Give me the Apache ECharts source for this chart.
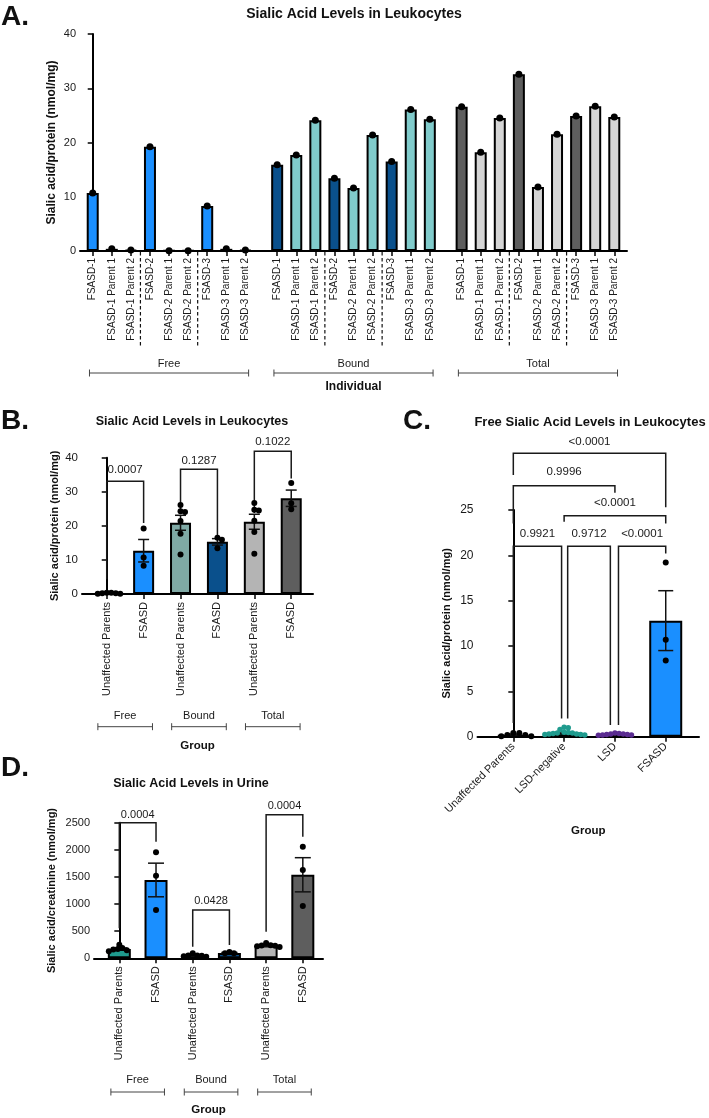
<!DOCTYPE html>
<html><head><meta charset="utf-8">
<script src="https://cdn.jsdelivr.net/npm/echarts@6/dist/echarts.min.js"></script>
<style>html,body{margin:0;padding:0;background:#fff}#c{width:709px;height:1118px}</style>
</head><body><div id="c"></div>
<script>
// ================= DATA =================
// Panel A – individual values (nmol/mg)
const aGroupNames = ['Free', 'Bound', 'Total'];
const aBarLabels = ['FSASD-1', 'FSASD-1 Parent 1', 'FSASD-1 Parent 2',
  'FSASD-2', 'FSASD-2 Parent 1', 'FSASD-2 Parent 2',
  'FSASD-3', 'FSASD-3 Parent 1', 'FSASD-3 Parent 2'];
const aFree  = [10.7, 0.4, 0.2, 19.2, 0.05, 0.05, 8.3, 0.4, 0.2];
const aBound = [15.9, 17.7, 24.1, 13.4, 11.6, 21.4, 16.5, 26.1, 24.3];
const aTotal = [26.6, 18.2, 24.5, 32.6, 11.8, 21.5, 24.9, 26.7, 24.7];

// Panel B – leukocytes by group
const bCategories = ['Unaffected Parents', 'FSASD', 'Unaffected Parents', 'FSASD', 'Unaffected Parents', 'FSASD'];
const bGroupNames = ['Free', 'Bound', 'Total'];
const bMeans = [0.22, 12.7, 20.9, 15.3, 21.2, 28.1];
const bSems  = [0.07, 3.3, 2.2, 0.95, 2.2, 2.4];
const bPoints = [
  [0.4, 0.2, 0.05, 0.05, 0.4, 0.2],
  [19.2, 10.7, 8.3],
  [17.7, 24.1, 11.6, 21.4, 26.1, 24.3],
  [15.9, 13.4, 16.5],
  [18.2, 24.5, 11.8, 21.5, 26.7, 24.7],
  [26.6, 32.6, 24.9]
];
const bPValues = ['0.0007', '0.1287', '0.1022'];

// Panel C – free sialic acid in leukocytes
const cCategories = ['Unaffected Parents', 'LSD-negative', 'LSD', 'FSASD'];
const cMeans = [0.22, 0.46, 0.26, 12.8];
const cSems  = [0.07, 0.08, 0.03, 3.3];
const cPoints = [
  [0.4, 0.2, 0.05, 0.05, 0.4, 0.2],
  [1.05, 1.0, 0.8, 0.5, 0.45, 0.4, 0.4, 0.35, 0.3, 0.3, 0.25, 0.25, 0.2],
  [0.4, 0.35, 0.3, 0.3, 0.25, 0.25, 0.2, 0.2, 0.15],
  [19.2, 10.7, 8.4]
];
const cPValues = ['<0.0001', '0.9996', '<0.0001', '0.9921', '0.9712', '<0.0001'];

// Panel D – urine (nmol/mg creatinine)
const dCategories = ['Unaffected Parents', 'FSASD', 'Unaffected Parents', 'FSASD', 'Unaffected Parents', 'FSASD'];
const dGroupNames = ['Free', 'Bound', 'Total'];
const dMeans = [172, 1444, 52, 100, 236, 1540];
const dSems  = [18, 310, 10, 8, 11, 315];
const dPoints = [
  [250, 190, 160, 130, 150, 170],
  [1954, 1523, 890],
  [95, 40, 50, 30, 45, 52],
  [118, 92, 95],
  [282, 240, 220, 230, 210, 235],
  [2058, 1629, 965]
];
const dPValues = ['0.0004', '0.0428', '0.0004'];

// ================= STYLE / LAYOUT =================
const FONT = '"Liberation Sans", Arial, Helvetica, sans-serif';
const C_BLUE = '#1A8FFF', C_DBLUE = '#0A508C', C_TEALL = '#80CBCB', C_LGRAY = '#D5D5D5',
      C_DGRAY = '#5E5E5E', C_BTEAL = '#7FA9A5', C_BGRAY = '#B4B4B4', C_TEAL = '#1F9B8E',
      C_PURPLE = '#5B2C91', C_TXT = '#1a1a1a';

const aFsColors = [C_BLUE, C_DBLUE, C_DGRAY];
const aParentColors = [C_BLUE, C_TEALL, C_LGRAY];
const bColors = [C_TEAL, C_BLUE, C_BTEAL, C_DBLUE, C_BGRAY, C_DGRAY];
const cColors = ['#111111', C_TEAL, C_PURPLE, C_BLUE];
const cDotColors = ['#000000', C_TEAL, C_PURPLE, '#000000'];
const dColors = [C_TEAL, C_BLUE, '#6FA7A2', C_DBLUE, C_BGRAY, C_DGRAY];

const GRIDS = [
  {left: 80, top: 34, width: 547, height: 217},      // A
  {left: 82, top: 457.7, width: 231, height: 136.3},  // B
  {left: 477.5, top: 510, width: 221.5, height: 226.7}, // C
  {left: 94, top: 822.7, width: 229, height: 135.6}   // D
];
const X_RANGE = [[-2/3, 28], [-0.67, 5.59], [-0.705, 3.655], [-0.69, 5.55]];
const Y_RANGE = [[0, 40, 10], [0, 40, 10], [0, 25, 5], [0, 2500, 500]];

// x positions of panel A bars (value axis), group gap of 5/3 slot
const aPos = [];
for (let g = 0; g < 3; g++) for (let i = 0; i < 9; i++) aPos.push(g * (9 + 2/3) + i);
const aLabelsAll = [].concat(aBarLabels, aBarLabels, aBarLabels);
const aValsAll = [].concat(aFree, aBound, aTotal);

// significance brackets: [x1, x2, yTop, yLeftEnd, yRightEnd, yText]
const bBrackets = [[0, 1, 33.1, 4.3, 20.8, 36.3], [2, 3, 36.6, 23.6, 17.2, 39.2], [4, 5, 41.9, 23.8, 33.9, 44.8]];
const cBrackets = [[0, 3, 31.25, 28.85, 25.3, 32.5], [0, 2, 27.67, 23.5, 26.9, 29.2], [1, 3, 24.37, 23.7, 23.5, 25.8],
  [0, 0.95, 21.0, 1.5, 2.0, 22.4], [1.07, 1.91, 21.0, 2.0, 1.3, 22.4], [2.07, 3, 21.0, 1.3, 20.2, 22.4]];
const dBrackets = [[0, 1, 2500, 553, 2150, 2650], [2, 3, 890, 215, 245, 1065], [4, 5, 2645, 490, 2242, 2810]];

// ================= HELPERS =================
function swarm(vals, pxPerY, pxPerX, d, minDist) {
  const order = vals.map((v, i) => i).sort((a, b) => vals[b] - vals[a]);
  const placed = []; const off = new Array(vals.length).fill(0);
  order.forEach(i => {
    const y = vals[i] * pxPerY;
    const cands = [0];
    for (let k = 1; k < 40; k++) { cands.push(k * d * 0.25); cands.push(-k * d * 0.25); }
    for (const c of cands) {
      if (placed.every(p => Math.hypot(p[0] - c, p[1] - y) >= d * minDist)) { placed.push([c, y]); off[i] = c / pxPerX; break; }
    }
  });
  return off;
}

function xAxisFor(idx, positions, labels, opts) {
  return Object.assign({
    type: 'value', gridIndex: idx, min: X_RANGE[idx][0], max: X_RANGE[idx][1],
    splitLine: {show: false},
    axisLine: {show: true, onZero: false, lineStyle: {color: '#000', width: 2}},
    axisTick: {show: true, length: 5, lineStyle: {color: '#000', width: 1.5}, customValues: positions},
    axisLabel: {
      customValues: positions, rotate: 90, margin: 8, fontSize: 11, color: C_TXT, fontFamily: FONT,
      formatter: v => { const k = positions.findIndex(p => Math.abs(p - v) < 1e-6); return k >= 0 ? labels[k] : ''; }
    }
  }, opts || {});
}
function yAxisFor(idx, name, nameGap, fs, nameFs) {
  return {
    type: 'value', gridIndex: idx, min: Y_RANGE[idx][0], max: Y_RANGE[idx][1], interval: Y_RANGE[idx][2],
    splitLine: {show: false},
    axisLine: {show: true, lineStyle: {color: '#000', width: 2}},
    axisTick: {show: true, length: 5, lineStyle: {color: '#000', width: 1.5}},
    axisLabel: {fontSize: fs, color: C_TXT, fontFamily: FONT, margin: 4, formatter: v => String(v)},
    name: name, nameLocation: 'middle', nameGap: nameGap, nameMoveOverlap: false,
    nameTextStyle: {fontSize: nameFs, fontWeight: 'bold', color: '#111', fontFamily: FONT}
  };
}
function barSeries(idx, xs, vals, colors, width) {
  return {
    type: 'bar', xAxisIndex: idx, yAxisIndex: idx, barWidth: width, z: 2,
    data: vals.map((v, i) => ({value: [xs[i], v], itemStyle: {color: colors[i], borderColor: '#000', borderWidth: 2}}))
  };
}
function dotSeries(idx, data, size, color) {
  return {type: 'scatter', xAxisIndex: idx, yAxisIndex: idx, symbolSize: size, z: 5,
    itemStyle: {color: color || '#000', opacity: 1}, data: data};
}
function errSeries(idx, means, sems, capHalf) {
  return {
    type: 'custom', xAxisIndex: idx, yAxisIndex: idx, clip: false, z: 4,
    data: means.map((m, i) => [i, m, sems[i]]),
    renderItem: (params, api) => {
      const x = api.value(0), m = api.value(1), s = api.value(2);
      const t = api.coord([x, m + s]), b = api.coord([x, m - s]);
      const st = {stroke: '#111', lineWidth: 1.5};
      return {type: 'group', children: [
        {type: 'line', shape: {x1: t[0], y1: t[1], x2: b[0], y2: b[1]}, style: st},
        {type: 'line', shape: {x1: t[0] - capHalf, y1: t[1], x2: t[0] + capHalf, y2: t[1]}, style: st},
        {type: 'line', shape: {x1: b[0] - capHalf, y1: b[1], x2: b[0] + capHalf, y2: b[1]}, style: st}
      ]};
    }
  };
}
function sigSeries(idx, brackets, labels, fs) {
  return {
    type: 'custom', xAxisIndex: idx, yAxisIndex: idx, clip: false, z: 3,
    data: brackets.map(b => b.slice()),
    renderItem: (params, api) => {
      const x1 = api.value(0), x2 = api.value(1), top = api.value(2), l = api.value(3), r = api.value(4), ty = api.value(5);
      const pL = api.coord([x1, top]), pR = api.coord([x2, top]);
      const pLb = api.coord([x1, l]), pRb = api.coord([x2, r]), pT = api.coord([(x1 + x2) / 2, ty]);
      const st = {stroke: '#1a1a1a', lineWidth: 1.5, fill: null};
      return {type: 'group', children: [
        {type: 'polyline', shape: {points: [[pLb[0], pLb[1]], [pL[0], pL[1]], [pR[0], pR[1]], [pRb[0], pRb[1]]]}, style: st},
        {type: 'text', style: {text: labels[params.dataIndex], x: pT[0], y: pT[1], align: 'center', verticalAlign: 'middle',
          fontSize: fs, fontFamily: FONT, fill: C_TXT}}
      ]};
    }
  };
}
function groupBracketSeries(idx, spans, names, textOff, lineOff, fs) {
  return {
    type: 'custom', xAxisIndex: idx, yAxisIndex: idx, clip: false, z: 3,
    data: spans,
    renderItem: (params, api) => {
      const p1 = api.coord([api.value(0), 0]), p2 = api.coord([api.value(1), 0]);
      const y = p1[1] + lineOff;
      const st = {stroke: '#444', lineWidth: 1};
      return {type: 'group', children: [
        {type: 'line', shape: {x1: p1[0], y1: y, x2: p2[0], y2: y}, style: st},
        {type: 'line', shape: {x1: p1[0], y1: y - 3.5, x2: p1[0], y2: y + 3.5}, style: st},
        {type: 'line', shape: {x1: p2[0], y1: y - 3.5, x2: p2[0], y2: y + 3.5}, style: st},
        {type: 'text', style: {text: names[params.dataIndex], x: (p1[0] + p2[0]) / 2, y: p1[1] + textOff,
          align: 'center', verticalAlign: 'middle', fontSize: fs, fontFamily: FONT, fill: C_TXT}}
      ]};
    }
  };
}

// ================= BUILD =================
const series = [];
// ---- A
series.push(barSeries(0, aPos, aValsAll,
  aValsAll.map((v, k) => (k % 9) % 3 === 0 ? aFsColors[Math.floor(k / 9)] : aParentColors[Math.floor(k / 9)]), 12));
series.push(dotSeries(0, aValsAll.map((v, k) => [aPos[k], v]), 7));
const aSeps = [];
for (let g = 0; g < 3; g++) { aSeps.push([g * (9 + 2/3) + 2.5]); aSeps.push([g * (9 + 2/3) + 5.5]); }
series.push({
  type: 'custom', xAxisIndex: 0, yAxisIndex: 0, clip: false, z: 3, data: aSeps,
  renderItem: (params, api) => {
    const p = api.coord([api.value(0), 0]);
    return {type: 'line', shape: {x1: p[0], y1: p[1] + 1, x2: p[0], y2: p[1] + 96},
      style: {stroke: '#111', lineWidth: 1.2, lineDash: [3.5, 2.5]}};
  }
});
series.push(groupBracketSeries(0, [0, 1, 2].map(g => [aPos[g * 9] - 0.17, aPos[g * 9 + 8] + 0.17]), aGroupNames, 113, 122, 11));

// ---- B
const bX = bMeans.map((v, i) => i);
series.push(barSeries(1, bX, bMeans, bColors, 21));
series.push(errSeries(1, bMeans, bSems, 5.5));
const bDots = [];
bPoints.forEach((arr, i) => { const off = swarm(arr, 136.3 / 40, 36.9, 6, 0.72); arr.forEach((v, k) => bDots.push([i + off[k], v])); });
series.push(dotSeries(1, bDots, 6));
series.push(sigSeries(1, bBrackets, bPValues, 11.5));
series.push(groupBracketSeries(1, [0, 2, 4].map(i => [i + 0.5 - 0.74, i + 0.5 + 0.74]), bGroupNames, 121.7, 132.7, 11));

// ---- C
const cX = cMeans.map((v, i) => i);
series.push(barSeries(2, cX, cMeans, cColors, 33));
series.push(errSeries(2, cMeans, cSems, 7.5));
cPoints.forEach((arr, i) => {
  const big = (i === 0 || i === 3);
  const off = swarm(arr, 226.7 / 25, 50.8, big ? 6 : 5.5, big ? 0.85 : 0.75);
  series.push(dotSeries(2, arr.map((v, k) => [i + off[k], v]), big ? 6 : 5.5, cDotColors[i]));
});
series.push(sigSeries(2, cBrackets, cPValues, 11.5));

// ---- D
const dX = dMeans.map((v, i) => i);
series.push(barSeries(3, dX, dMeans, dColors, 23));
series.push(errSeries(3, dMeans, dSems, 8));
const dDots = [];
dPoints.forEach((arr, i) => { const off = swarm(arr, 135.6 / 2500, 36.7, 6, 0.72); arr.forEach((v, k) => dDots.push([i + off[k], v])); });
series.push(dotSeries(3, dDots, 6));
series.push(sigSeries(3, dBrackets, dPValues, 11));
series.push(groupBracketSeries(3, [0, 2, 4].map(i => [i + 0.5 - 0.73, i + 0.5 + 0.73]), dGroupNames, 122, 133.7, 11));

function gtext(text, x, y, size, align) {
  return {type: 'text', x: x, y: y, style: {text: text, align: align || 'center', verticalAlign: 'middle',
    font: 'bold ' + size + 'px ' + FONT, fill: '#111'}};
}

const option = {
  animation: false,
  backgroundColor: '#fff',
  grid: GRIDS.map(g => Object.assign({containLabel: false, outerBoundsMode: 'none'}, g)),
  xAxis: [
    xAxisFor(0, aPos, aLabelsAll, {name: 'Individual', nameLocation: 'middle', nameGap: 130,
      nameTextStyle: {fontSize: 12, fontWeight: 'bold', color: '#111', fontFamily: FONT}}),
    xAxisFor(1, bX, bCategories, {name: 'Group', nameLocation: 'middle', nameGap: 146,
      nameTextStyle: {fontSize: 11.5, fontWeight: 'bold', color: '#111', fontFamily: FONT}}),
    xAxisFor(2, cX, cCategories, {name: 'Group', nameLocation: 'middle', nameGap: 88,
      nameTextStyle: {fontSize: 11.5, fontWeight: 'bold', color: '#111', fontFamily: FONT}}),
    xAxisFor(3, dX, dCategories, {name: 'Group', nameLocation: 'middle', nameGap: 146,
      nameTextStyle: {fontSize: 11.5, fontWeight: 'bold', color: '#111', fontFamily: FONT}})
  ],
  yAxis: [
    yAxisFor(0, 'Sialic acid/protein (nmol/mg)', 22, 11, 12),
    yAxisFor(1, 'Sialic acid/protein (nmol/mg)', 21.5, 11.5, 11),
    yAxisFor(2, 'Sialic acid/protein (nmol/mg)', 25.3, 12, 11),
    yAxisFor(3, 'Sialic acid/creatinine (nmol/mg)', 36.8, 11, 11)
  ],
  series: series,
  graphic: [
    gtext('A.', 1, 17, 28, 'left'),
    gtext('Sialic Acid Levels in Leukocytes', 354, 14, 14),
    gtext('B.', 1, 421, 28, 'left'),
    gtext('Sialic Acid Levels in Leukocytes', 192, 422, 12.5),
    gtext('C.', 403, 421, 28, 'left'),
    gtext('Free Sialic Acid Levels in Leukocytes', 590, 422, 13),
    gtext('D.', 1, 768, 28, 'left'),
    gtext('Sialic Acid Levels in Urine', 191, 784, 12.5)
  ]
};
// C x labels rotated 45
option.xAxis[2].axisLabel.rotate = 45;
option.xAxis[0].axisLabel.fontSize = 10;
option.xAxis[0].axisLabel.margin = 7;

const chart = echarts.init(document.getElementById('c'), null, {renderer: 'canvas', width: 709, height: 1118});
chart.setOption(option);
</script></body></html>
